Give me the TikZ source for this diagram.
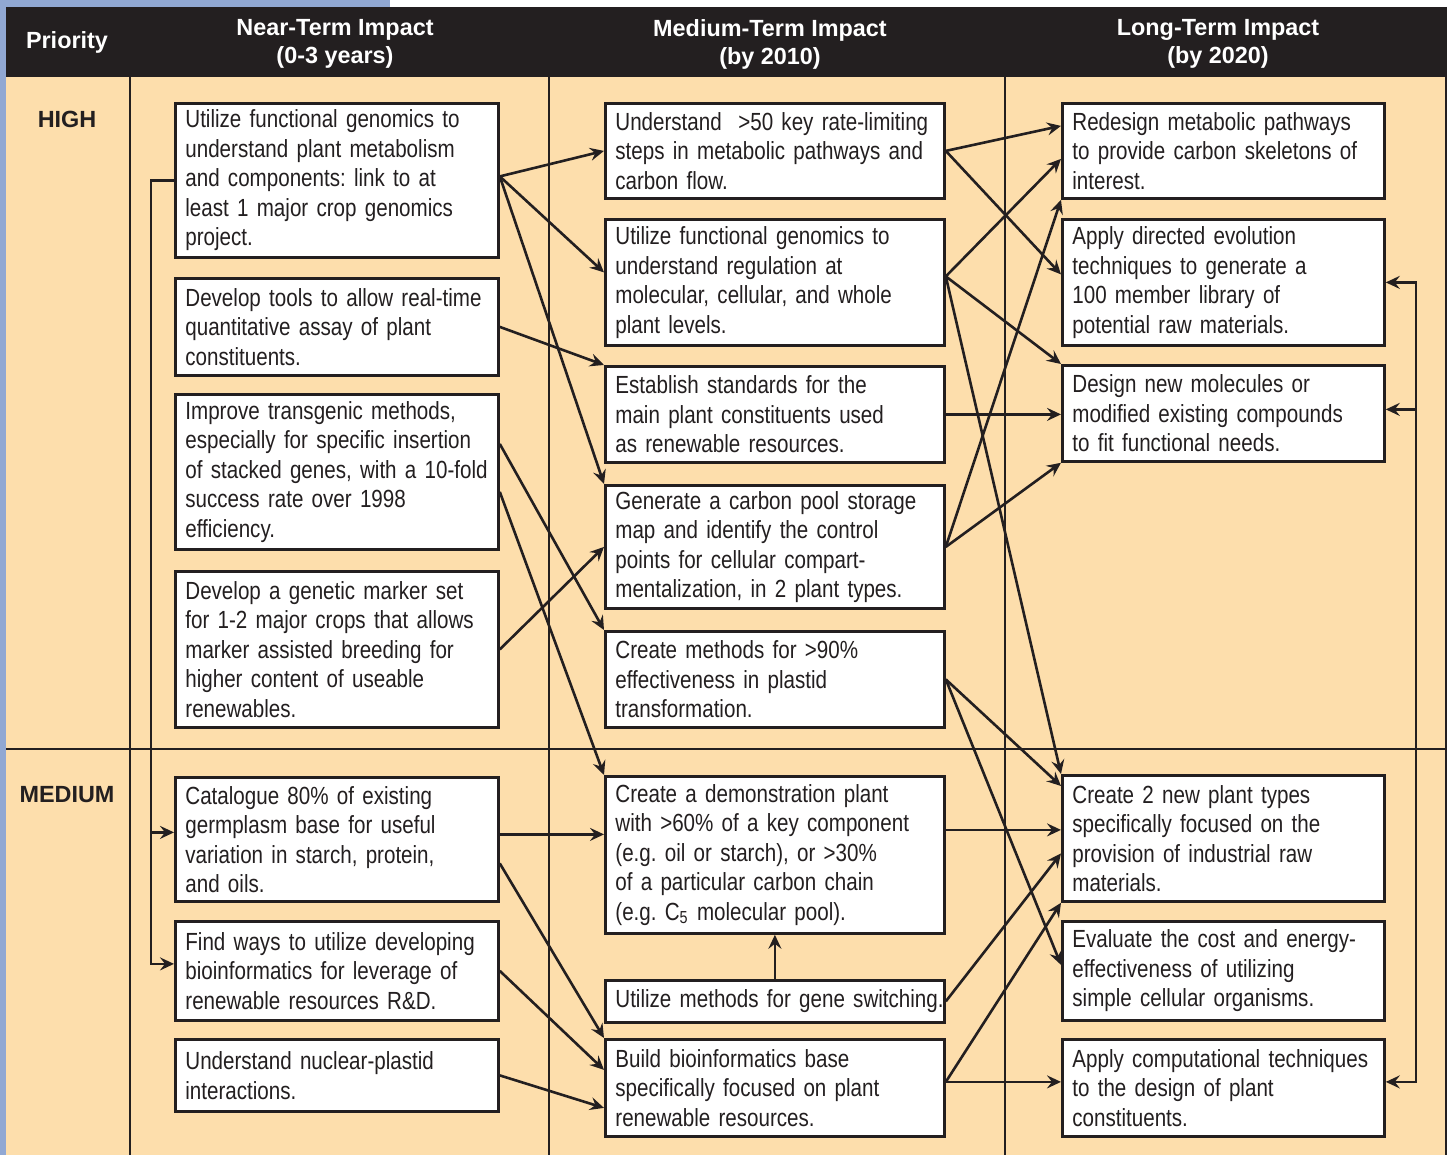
\documentclass[tikz,border=0pt]{standalone}
\usepackage{fontspec}
\setmainfont{Liberation Sans}
\newfontfamily\boxfont[FakeStretch=0.83]{Liberation Sans}
\usetikzlibrary{arrows.meta}

\definecolor{tan}{RGB}{253,222,172}
\definecolor{ink}{RGB}{35,31,32}
\definecolor{strip}{RGB}{145,168,211}

\tikzset{
  >={Stealth[length=7pt,width=6.5pt,inset=2.5pt]},
  box/.style={draw=ink, line width=1.4pt, fill=white, rectangle, anchor=north west,
    align=left, inner xsep=5pt, inner ysep=1pt, text=ink,
    font=\boxfont\fontsize{12.4}{14.75}\selectfont,
    execute at begin node={\frenchspacing}},
  nearbox/.style={box, text width=151.5pt},
  midbox/.style={box, text width=159.5pt},
  farbox/.style={box, text width=151pt},
  link/.style={draw=ink, line width=1.3pt, ->},
  head/.style={text=white, font=\bfseries\fontsize{11.7}{14}\selectfont, align=center},
  rank/.style={text=ink, font=\bfseries\fontsize{11.7}{14}\selectfont},
  rule/.style={draw=ink, line width=0.6pt}
}

\begin{document}
\begin{tikzpicture}[x=0.5pt, y=-0.5pt]
\useasboundingbox (0,0) rectangle (1453,1155);

% background and table grid
\fill[white] (0,0) rectangle (1453,1155);
\fill[strip] (0,0) rectangle (390,7);
\fill[strip] (0,0) rectangle (6,1155);
\fill[ink] (6,7) rectangle (1446,77);
\fill[tan] (6,77) rectangle (1446,1155);
\draw[rule] (1446,7) -- (1446,1155);
\draw[rule] (130,77) -- (130,1155);
\draw[rule] (549,77) -- (549,1155);
\draw[rule] (1005,77) -- (1005,1155);
\draw[rule] (6,749) -- (1446,749);

% headings
\node[head] (priority) at (67,42) {Priority};
\node[head] (nearhead) at (335,44) {Near-Term Impact\\(0-3 years)};
\node[head] (midhead) at (770,44) {Medium-Term Impact\\(by 2010)};
\node[head] (farhead) at (1218,44) {Long-Term Impact\\(by 2020)};
\node[rank] (high) at (67,119) {HIGH};
\node[rank] (medium) at (67,795) {MEDIUM};

% near-term column
\node[nearbox, minimum height=77pt] (a1) at (174,102) {Utilize functional genomics to\\understand plant metabolism\\and components: link to at\\least 1 major crop genomics\\project.};
\node[nearbox, minimum height=48.5pt] (a2) at (174,277) {Develop tools to allow real-time\\quantitative assay of plant\\constituents.};
\node[nearbox, minimum height=77.5pt] (a3) at (174,393) {Improve transgenic methods,\\especially for specific insertion\\of stacked genes, with a 10-fold\\success rate over 1998\\efficiency.};
\node[nearbox, minimum height=78pt] (a4) at (174,570) {Develop a genetic marker set\\for 1-2 major crops that allows\\marker assisted breeding for\\higher content of useable\\renewables.};
\node[nearbox, minimum height=62pt] (a5) at (174,776) {Catalogue 80\% of existing\\germplasm base for useful\\variation in starch, protein,\\and oils.};
\node[nearbox, minimum height=49.5pt] (a6) at (174,920) {Find ways to utilize developing\\bioinformatics for leverage of\\renewable resources R\&D.};
\node[nearbox, minimum height=36pt] (a7) at (174,1038) {Understand nuclear-plastid\\interactions.};

% medium-term column
\node[midbox, minimum height=47.5pt] (b1) at (604,102) {Understand\ \ >50 key rate-limiting\\steps in metabolic pathways and\\carbon flow.};
\node[midbox, minimum height=63pt] (b2) at (604,218) {Utilize functional genomics to\\understand regulation at\\molecular, cellular, and whole\\plant levels.};
\node[midbox, minimum height=48pt] (b3) at (604,365) {Establish standards for the\\main plant constituents used\\as renewable resources.};
\node[midbox, minimum height=61.5pt] (b4) at (604,484) {Generate a carbon pool storage\\map and identify the control\\points for cellular compart-\\mentalization, in 2 plant types.};
\node[midbox, minimum height=48pt] (b5) at (604,630) {Create methods for >90\%\\effectiveness in plastid\\transformation.};
\node[midbox, minimum height=78.5pt] (b6) at (604,775) {Create a demonstration plant\\with >60\% of a key component\\(e.g. oil or starch), or >30\%\\of a particular carbon chain\\(e.g. C\textsubscript{5} molecular pool).};
\node[midbox, minimum height=21pt] (b7) at (604,979) {\mbox{Utilize methods for gene switching.}};
\node[midbox, minimum height=48.5pt] (b8) at (604,1038) {Build bioinformatics base\\specifically focused on plant\\renewable resources.};

% long-term column
\node[farbox, minimum height=47.5pt] (c1) at (1061,102) {Redesign metabolic pathways\\to provide carbon skeletons of\\interest.};
\node[farbox, minimum height=63pt] (c2) at (1061,218) {Apply directed evolution\\techniques to generate a\\100 member library of\\potential raw materials.};
\node[farbox, minimum height=48pt] (c3) at (1061,364) {Design new molecules or\\modified existing compounds\\to fit functional needs.};
\node[farbox, minimum height=63pt] (c4) at (1061,774) {Create 2 new plant types\\specifically focused on the\\provision of industrial raw\\materials.};
\node[farbox, minimum height=49.5pt] (c5) at (1061,920) {Evaluate the cost and energy-\\effectiveness of utilizing\\simple cellular organisms.};
\node[farbox, minimum height=48.5pt] (c6) at (1061,1038) {Apply computational techniques\\to the design of plant\\constituents.};

% arrows near-term -> medium-term
\draw[link] ([yshift=2pt]a1.east) -- (b1.west);
\draw[link] ([yshift=2pt]a1.east) -- ([yshift=5pt]b2.west);
\draw[link] ([yshift=2pt]a1.east) -- (b4.north west);
\draw[link] (a2.east) -- (b3.north west);
\draw[link] ([yshift=14pt]a3.east) -- (b5.north west);
\draw[link] ([yshift=-10pt]a3.east) -- (b6.north west);
\draw[link] (a4.east) -- (b4.west);
\draw[link] ([yshift=2.5pt]a5.east) -- ([yshift=2.5pt]a5.east -| b6.west);
\draw[link] ([yshift=-12pt]a5.east) -- (b8.north west);
\draw[link] (a6.east) -- ([yshift=9pt]b8.west);
\draw[link] (a7.east) -- ([yshift=-10pt]b8.west);
\draw[link] (b7.north) -- (b6.south);

% bracket on the left
\draw[link] (a1.west) -- ++(-11.5pt,0) |- ([yshift=3.5pt]a6.west);
\draw[link] ([xshift=-11.5pt,yshift=3.5pt]a5.west) -- ([yshift=3.5pt]a5.west);

% arrows medium-term -> long-term
\draw[link] (b1.east) -- ([yshift=12.5pt]c1.west);
\draw[link] (b1.east) -- ([yshift=4pt]c2.west);
\draw[link] ([yshift=3pt]b2.east) -- ([yshift=-4pt]c1.west);
\draw[link] ([yshift=3pt]b2.east) -- (c3.north west);
\draw[link] ([yshift=3pt]b2.east) -- (c4.north west);
\draw[link] (b3.east) -- (b3.east -| c3.west);
\draw[link] (b4.east) -- (c1.south west);
\draw[link] (b4.east) -- (c3.south west);
\draw[link] (b5.east) -- ([yshift=-6pt]c4.north west);
\draw[link] (b5.east) -- ([yshift=3pt]c5.west);
\draw[link] ([yshift=12.5pt]b6.east) -- ([yshift=12.5pt]b6.east -| c4.west);
\draw[link] (b7.east) -- ([yshift=-7.5pt]c4.west);
\draw[link] ([yshift=3pt]b8.east) -- (c4.south west);
\draw[link] ([yshift=3pt]b8.east) -- ([yshift=3pt]b8.east -| c6.west);

% bracket on the right
\draw[link, <->] ([yshift=3pt]c6.east) -- ++(15pt,0) |- (c2.east);
\draw[link] ([xshift=15pt,yshift=2pt]c3.east) -- ([yshift=2pt]c3.east);

\end{tikzpicture}
\end{document}
